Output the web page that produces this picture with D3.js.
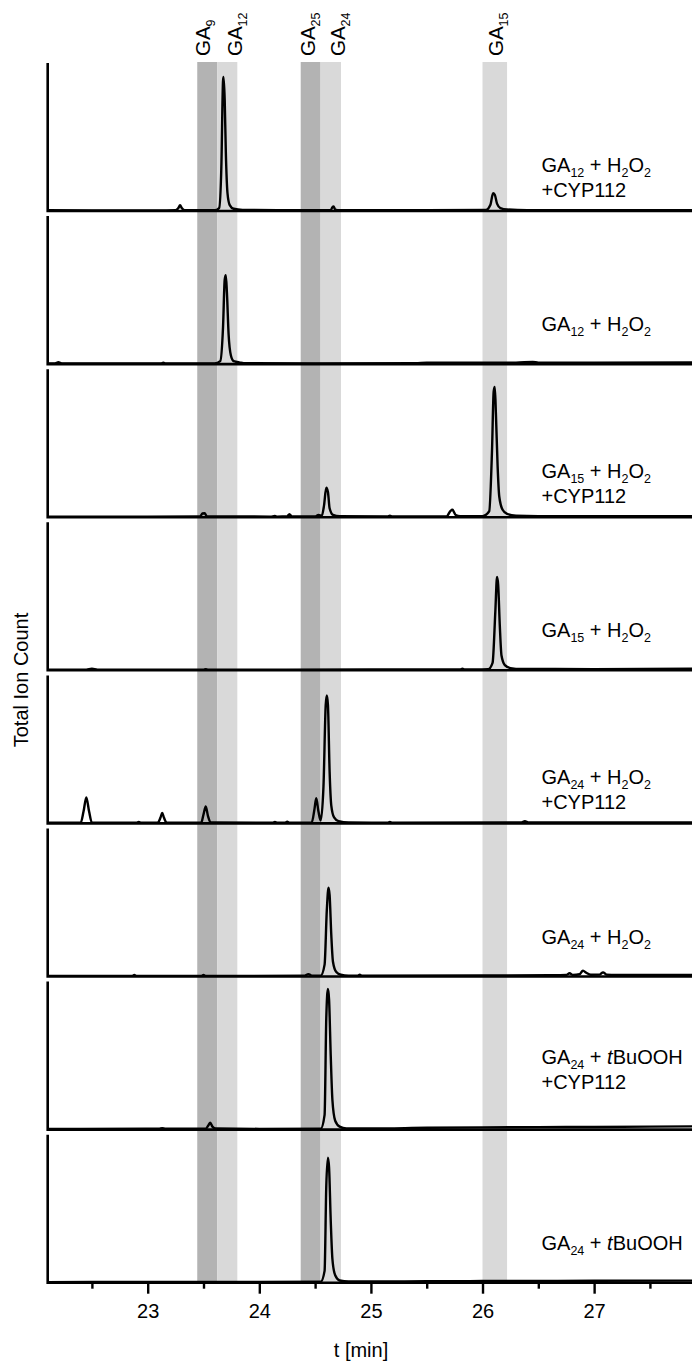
<!DOCTYPE html>
<html>
<head>
<meta charset="utf-8">
<script src="https://cdnjs.cloudflare.com/ajax/libs/d3/7.8.5/d3.min.js"></script>
<style>
  body { margin: 0; background: #fff; }
  text { font-family: "Liberation Sans", Arial, sans-serif; fill: #000; }
</style>
</head>
<body>
<svg id="chart" width="692" height="1366"></svg>
<script>
// time axis (min)
var timeDomain = [22.104, 27.877];
var majorTicks = [23, 24, 25, 26, 27];
var minorTicks = [22.5, 23.5, 24.5, 25.5, 26.5, 27.5];

// retention windows of the standards
var bandNames = ["GA_{9}", "GA_{12}", "GA_{25}", "GA_{24}", "GA_{15}"];
var bandStart = [23.444, 23.624, 24.371, 24.549, 26.00];
var bandEnd   = [23.624, 23.803, 24.549, 24.732, 26.22];

// sample names, one entry per line
var panelLabels = [
  ["GA_{12} + H_{2}O_{2}", "+CYP112"],
  ["GA_{12} + H_{2}O_{2}"],
  ["GA_{15} + H_{2}O_{2}", "+CYP112"],
  ["GA_{15} + H_{2}O_{2}"],
  ["GA_{24} + H_{2}O_{2}", "+CYP112"],
  ["GA_{24} + H_{2}O_{2}"],
  ["GA_{24} + /t/BuOOH", "+CYP112"],
  ["GA_{24} + /t/BuOOH"]
];

// traces: [time, relative intensity (% of panel height)]
var trace1 = [[22.10,0.5],[22.5,0.4],[23.0,0.4],[23.25,0.5],[23.275,2],[23.29,4],[23.305,2],[23.33,0.5],[23.6,0.5],[23.64,2],[23.66,30],[23.675,88],[23.68,90.5],[23.69,75],[23.70,40],[23.715,12],[23.735,4],[23.77,1.5],[23.85,0.7],[24.3,0.5],[24.64,0.6],[24.655,2.5],[24.665,3],[24.68,1],[24.72,0.5],[25.5,0.5],[26.03,0.7],[26.07,4],[26.095,12],[26.11,11],[26.13,5],[26.16,2],[26.22,1],[26.4,0.6],[27.88,0.5]];
var trace2 = [[22.10,0.4],[22.17,0.5],[22.2,1.2],[22.23,0.5],[22.6,0.4],[23.12,0.5],[23.14,1],[23.16,0.5],[23.6,0.5],[23.65,2],[23.675,25],[23.69,57],[23.70,60],[23.71,48],[23.725,20],[23.745,6],[23.77,2],[23.8,1.5],[23.82,1.2],[23.86,0.6],[24.5,0.5],[25.4,0.6],[25.5,1],[26.0,1],[26.3,1],[26.45,1.5],[26.5,1],[27.0,1],[27.88,1.2]];
var trace3 = [[22.10,0.4],[23.0,0.4],[23.47,0.5],[23.49,2.5],[23.51,2.7],[23.53,0.6],[24.1,0.4],[24.14,0.8],[24.16,0.4],[24.25,0.6],[24.27,2],[24.29,0.6],[24.5,0.5],[24.53,1.5],[24.56,1],[24.58,8],[24.60,20],[24.615,17],[24.63,6],[24.66,1.5],[24.72,0.6],[25.15,0.5],[25.17,1],[25.19,0.5],[25.68,0.6],[25.71,4],[25.73,5],[25.76,1.5],[25.8,0.6],[26.0,0.7],[26.06,4],[26.085,45],[26.10,85],[26.11,88],[26.12,70],[26.135,35],[26.15,14],[26.18,5],[26.22,2.2],[26.3,1],[26.5,0.7],[27.88,0.6]];
var trace4 = [[22.10,0.4],[22.45,0.4],[22.5,1],[22.55,0.4],[23.5,0.4],[23.52,0.8],[23.54,0.4],[25.0,0.5],[25.8,0.6],[25.82,1],[25.84,0.6],[26.05,0.7],[26.09,5],[26.115,40],[26.13,63],[26.14,58],[26.155,30],[26.17,10],[26.2,3.5],[26.25,1.5],[26.35,0.9],[27.0,0.8],[27.88,1]];
var trace5 = [[22.10,0.4],[22.40,0.5],[22.425,8],[22.45,17.5],[22.475,8],[22.50,0.5],[22.9,0.5],[22.92,1],[22.94,0.5],[23.09,0.5],[23.115,4],[23.13,7],[23.145,4],[23.17,0.5],[23.48,0.5],[23.50,6],[23.52,11.5],[23.54,5],[23.565,0.6],[24.12,0.5],[24.14,1],[24.16,0.5],[24.23,0.5],[24.25,1.2],[24.27,0.5],[24.47,0.7],[24.495,10],[24.51,17],[24.53,8],[24.55,2],[24.575,25],[24.595,80],[24.605,86.5],[24.615,80],[24.63,35],[24.645,12],[24.67,4],[24.71,1.5],[24.8,0.6],[25.15,0.5],[25.17,1],[25.19,0.5],[26.35,0.6],[26.38,1.5],[26.41,0.7],[27.88,0.6]];
var trace6 = [[22.10,0.4],[22.86,0.4],[22.88,1],[22.9,0.4],[23.48,0.4],[23.5,1],[23.52,0.4],[24.4,0.5],[24.44,1.6],[24.47,0.6],[24.55,0.6],[24.585,8],[24.605,45],[24.62,60],[24.63,55],[24.645,28],[24.66,10],[24.69,3],[24.73,1.2],[24.8,0.6],[24.88,0.6],[24.9,1.2],[24.92,0.6],[26.0,0.7],[26.6,0.9],[26.75,1],[26.78,2.2],[26.81,1],[26.87,1.5],[26.90,4],[26.93,2.5],[26.97,1.2],[27.05,1.3],[27.08,2.8],[27.11,1.3],[27.2,1],[27.88,1.1]];
var trace7 = [[22.10,0.5],[22.4,0.5],[23.1,0.6],[23.13,1],[23.16,0.6],[23.52,0.6],[23.545,3],[23.56,4.7],[23.58,2],[23.61,0.7],[24.0,0.5],[24.55,0.6],[24.585,10],[24.60,75],[24.615,95],[24.625,88],[24.64,50],[24.655,20],[24.68,6],[24.72,2],[24.78,0.8],[25.0,0.7],[25.5,1.2],[26.0,1.5],[26.5,1.7],[27.0,1.8],[27.5,2],[27.88,2.2]];
var trace8 = [[22.10,0.4],[22.5,0.5],[23.0,0.5],[23.5,0.5],[24.0,0.5],[24.55,0.6],[24.585,8],[24.60,65],[24.615,84.5],[24.625,78],[24.64,42],[24.655,16],[24.68,5],[24.72,1.5],[24.8,0.8],[25.0,0.8],[25.5,1],[26.0,1.1],[26.5,1.2],[27.0,1.3],[27.88,1.4]];
var traces = [trace1, trace2, trace3, trace4, trace5, trace6, trace7, trace8];

(function() {
  var svg = d3.select("#chart"),
      left = 47.7, right = 692,
      firstBase = 211, step = 153.1, panelH = 148,
      top = firstBase - panelH,
      bottom = firstBase + step * (traces.length - 1);

  var x = d3.scaleLinear().domain(timeDomain).range([left, right]);
  var y = d3.scaleLinear().domain([0, 100]);

  // writes "GA_{12} + /t/BuOOH" style strings as tspans (sub / italic)
  function richText(sel, str, size, subSize, subDrop) {
    var parts = str.split(/(_\{[^}]*\}|\/[^\/]*\/)/).filter(function(p) { return p !== ""; });
    var shift = 0;
    parts.forEach(function(p) {
      var t = sel.append("tspan");
      if (p[0] === "_") {
        t.text(p.slice(2, -1)).style("font-size", subSize + "px").attr("dy", subDrop - shift);
        shift = subDrop;
      } else {
        if (p[0] === "/") { p = p.slice(1, -1); t.style("font-style", "italic"); }
        t.text(p).style("font-size", size + "px").attr("dy", -shift);
        shift = 0;
      }
    });
  }

  // shaded retention windows
  var shade = function(i) { return i % 2 === 0 && i < 4 ? "#b3b3b3" : "#d9d9d9"; };
  svg.append("g").selectAll("rect")
    .data(bandStart)
    .enter().append("rect")
      .attr("x", function(d) { return x(d); })
      .attr("width", function(d, i) { return x(bandEnd[i]) - x(d); })
      .attr("y", top - 1)
      .attr("height", bottom - top + 1)
      .attr("fill", function(d, i) { return shade(i); });

  // standard names above the bands
  var nudge = [-4.5, 7, -3, 7, 1];
  bandNames.forEach(function(name, i) {
    var cx = x((bandStart[i] + bandEnd[i]) / 2) + 7.5 + nudge[i];
    var t = svg.append("text")
      .attr("transform", "translate(" + cx + ",56) rotate(-90)");
    richText(t, name, 20.5, 12.5, 5);
  });

  var line = d3.line()
    .x(function(d) { return x(d[0]); })
    .y(function(d) { return y(d[1]); })
    .curve(d3.curveMonotoneX);

  traces.forEach(function(tr, i) {
    var base = firstBase + step * i;
    y.range([base, base - panelH]);
    var g = svg.append("g");

    // panel frame: left axis + baseline
    g.append("path")
      .attr("d", "M" + left + "," + (base - panelH) + "V" + base + "H" + right)
      .attr("fill", "none").attr("stroke", "#000").attr("stroke-width", 2.6);

    g.append("path")
      .datum(tr)
      .attr("d", line)
      .attr("fill", "none")
      .attr("stroke", "#000")
      .attr("stroke-width", 2.4)
      .attr("stroke-linejoin", "round");

    var lines = panelLabels[i],
        lift = i === 6 ? 27 : 0,
        first = lines.length > 1 ? base - 39 - lift : base - 33;
    lines.forEach(function(s, k) {
      var t = g.append("text").attr("x", 541.5).attr("y", first + k * 25);
      richText(t, s, 20, 12.5, 5);
    });
  });

  // bottom time axis
  var axisG = svg.append("g").attr("transform", "translate(0," + bottom + ")");
  axisG.append("g")
    .call(d3.axisBottom(x).tickValues(minorTicks).tickSize(6).tickFormat(""))
    .call(function(a) { a.select(".domain").remove(); });
  axisG.append("g")
    .call(d3.axisBottom(x).tickValues(majorTicks).tickSize(11).tickPadding(10).tickFormat(d3.format("d")))
    .call(function(a) { a.select(".domain").remove(); });
  axisG.selectAll("line").attr("stroke", "#000").attr("stroke-width", 2.4);
  axisG.selectAll("text")
    .style("font-size", "20px")
    .style("font-family", "'Liberation Sans', Arial, sans-serif");

  svg.append("text")
    .attr("x", 361).attr("y", 1357)
    .attr("text-anchor", "middle")
    .style("font-size", "20px")
    .text("t [min]");

  svg.append("text")
    .attr("transform", "translate(21,680) rotate(-90)")
    .attr("text-anchor", "middle")
    .attr("dominant-baseline", "central")
    .style("font-size", "20px")
    .text("Total Ion Count");
})();
</script>
</body>
</html>
